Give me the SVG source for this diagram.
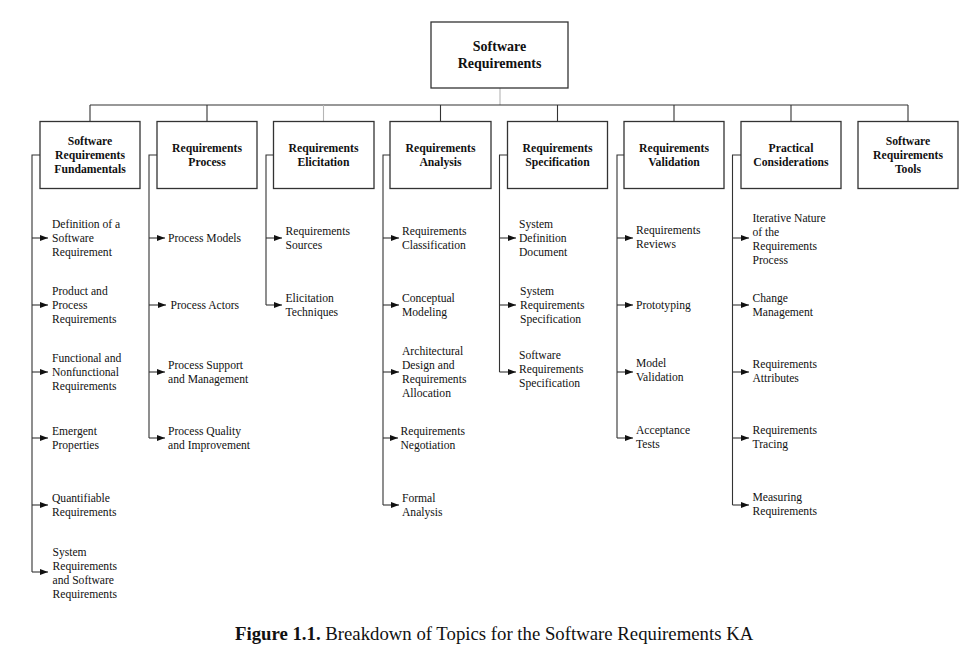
<svg xmlns="http://www.w3.org/2000/svg" width="966" height="657" viewBox="0 0 966 657">
<style>
  .box { fill: #ffffff; stroke: #333333; stroke-width: 1.3; }
  .hd { font-family: "Liberation Serif", "Times New Roman", serif; font-weight: bold; font-size: 11.7px; fill: #111111; text-anchor: middle; }
  .root { font-family: "Liberation Serif", "Times New Roman", serif; font-weight: bold; font-size: 14px; fill: #111111; text-anchor: middle; }
  .ch { font-family: "Liberation Serif", "Times New Roman", serif; font-size: 11.6px; fill: #111111; }
  .ln { fill: none; stroke: #333333; stroke-width: 1.1; }
  .lg { fill: none; stroke: #b5b5b5; stroke-width: 1.1; }
  .ar { fill: none; stroke: #333333; stroke-width: 1.1; marker-end: url(#ah); }
  .cap { font-family: "Liberation Serif", "Times New Roman", serif; font-size: 18.75px; fill: #111111; }
</style>
<defs>
  <marker id="ah" markerWidth="8" markerHeight="6" refX="8" refY="3" orient="auto" markerUnits="userSpaceOnUse">
    <path d="M0,0 L8,3 L0,6 Z" fill="#111111"/>
  </marker>
</defs>
<rect width="966" height="657" fill="#ffffff"/>

<g id="connectors">
  <path class="lg" d="M500,88 V105"/>
  <path class="ln" d="M90,105 H908"/>
  <path class="ln" d="M90,105 V121 M207,105 V121 M440.5,105 V121 M557.5,105 V121 M674,105 V121 M791,105 V121 M908,105 V121"/>
  <path class="lg" d="M323.5,105 V121"/>
  <!-- spines -->
  <path class="ln" d="M40,155 H32 V572"/>
  <path class="ln" d="M157,155 H149 V438"/>
  <path class="ln" d="M273,155 H266 V305"/>
  <path class="ln" d="M390,155 H383 V505"/>
  <path class="ln" d="M507,155 H499.5 V372"/>
  <path class="ln" d="M624,155 H617 V438"/>
  <path class="ln" d="M741,155 H732.5 V505"/>
  <!-- arrows col1 -->
  <path class="ar" d="M32,238 H48"/>
  <path class="ar" d="M32,305 H48"/>
  <path class="ar" d="M32,372 H48"/>
  <path class="ar" d="M32,438 H48"/>
  <path class="ar" d="M32,505 H48"/>
  <path class="ar" d="M32,572 H48"/>
  <!-- col2 -->
  <path class="ar" d="M149,238 H165"/>
  <path class="ar" d="M149,305 H166"/>
  <path class="ar" d="M149,372 H165"/>
  <path class="ar" d="M149,438 H165"/>
  <!-- col3 -->
  <path class="ar" d="M266,238 H282"/>
  <path class="ar" d="M266,305 H282"/>
  <!-- col4 -->
  <path class="ar" d="M383,238 H399"/>
  <path class="ar" d="M383,305 H399"/>
  <path class="ar" d="M383,372 H399"/>
  <path class="ar" d="M383,438 H398"/>
  <path class="ar" d="M383,505 H399"/>
  <!-- col5 -->
  <path class="ar" d="M499.5,238 H516"/>
  <path class="ar" d="M499.5,305 H516"/>
  <path class="ar" d="M499.5,372 H516"/>
  <!-- col6 -->
  <path class="ar" d="M617,238 H633"/>
  <path class="ar" d="M617,305 H633"/>
  <path class="ar" d="M617,372 H633"/>
  <path class="ar" d="M617,438 H633"/>
  <!-- col7 -->
  <path class="ar" d="M732.5,238 H749"/>
  <path class="ar" d="M732.5,305 H749"/>
  <path class="ar" d="M732.5,372 H749"/>
  <path class="ar" d="M732.5,438 H749"/>
  <path class="ar" d="M732.5,505 H749"/>
</g>

<g id="root">
  <rect class="box" x="431" y="22" width="137" height="66"/>
  <text class="root" x="499.5" y="51"><tspan x="499.5">Software</tspan><tspan x="499.5" dy="17">Requirements</tspan></text>
</g>

<g id="n-fundamentals">
  <rect class="box" x="40" y="121.5" width="100" height="67"/>
  <text class="hd" x="90" y="145"><tspan x="90">Software</tspan><tspan x="90" dy="14">Requirements</tspan><tspan x="90" dy="14">Fundamentals</tspan></text>
</g>
<g id="n-process">
  <rect class="box" x="157" y="121.5" width="100" height="67"/>
  <text class="hd" x="207" y="152"><tspan x="207">Requirements</tspan><tspan x="207" dy="14">Process</tspan></text>
</g>
<g id="n-elicitation">
  <rect class="box" x="273.5" y="121.5" width="100.5" height="67"/>
  <text class="hd" x="323.5" y="152"><tspan x="323.5">Requirements</tspan><tspan x="323.5" dy="14">Elicitation</tspan></text>
</g>
<g id="n-analysis">
  <rect class="box" x="390" y="121.5" width="101" height="67"/>
  <text class="hd" x="440.5" y="152"><tspan x="440.5">Requirements</tspan><tspan x="440.5" dy="14">Analysis</tspan></text>
</g>
<g id="n-specification">
  <rect class="box" x="507.5" y="121.5" width="100" height="67"/>
  <text class="hd" x="557.5" y="152"><tspan x="557.5">Requirements</tspan><tspan x="557.5" dy="14">Specification</tspan></text>
</g>
<g id="n-validation">
  <rect class="box" x="624" y="121.5" width="100" height="67"/>
  <text class="hd" x="674" y="152"><tspan x="674">Requirements</tspan><tspan x="674" dy="14">Validation</tspan></text>
</g>
<g id="n-practical">
  <rect class="box" x="741" y="121.5" width="100" height="67"/>
  <text class="hd" x="791" y="152"><tspan x="791">Practical</tspan><tspan x="791" dy="14">Considerations</tspan></text>
</g>
<g id="n-tools">
  <rect class="box" x="858" y="121.5" width="100" height="67"/>
  <text class="hd" x="908" y="145"><tspan x="908">Software</tspan><tspan x="908" dy="14">Requirements</tspan><tspan x="908" dy="14">Tools</tspan></text>
</g>

<!-- column 1 children -->
<g id="c1-1"><text class="ch" y="228"><tspan x="52">Definition of a</tspan><tspan x="52" dy="14">Software</tspan><tspan x="52" dy="14">Requirement</tspan></text></g>
<g id="c1-2"><text class="ch" y="295"><tspan x="52">Product and</tspan><tspan x="52" dy="14">Process</tspan><tspan x="52" dy="14">Requirements</tspan></text></g>
<g id="c1-3"><text class="ch" y="362"><tspan x="52">Functional and</tspan><tspan x="52" dy="14">Nonfunctional</tspan><tspan x="52" dy="14">Requirements</tspan></text></g>
<g id="c1-4"><text class="ch" y="435"><tspan x="52">Emergent</tspan><tspan x="52" dy="14">Properties</tspan></text></g>
<g id="c1-5"><text class="ch" y="502"><tspan x="52">Quantifiable</tspan><tspan x="52" dy="14">Requirements</tspan></text></g>
<g id="c1-6"><text class="ch" y="556"><tspan x="52.5">System</tspan><tspan x="52.5" dy="14">Requirements</tspan><tspan x="52.5" dy="14">and Software</tspan><tspan x="52.5" dy="14">Requirements</tspan></text></g>

<!-- column 2 -->
<g id="c2-1"><text class="ch" y="242"><tspan x="168">Process Models</tspan></text></g>
<g id="c2-2"><text class="ch" y="309"><tspan x="170.5">Process Actors</tspan></text></g>
<g id="c2-3"><text class="ch" y="369"><tspan x="168">Process Support</tspan><tspan x="168" dy="14">and Management</tspan></text></g>
<g id="c2-4"><text class="ch" y="435"><tspan x="168">Process Quality</tspan><tspan x="168" dy="14">and Improvement</tspan></text></g>

<!-- column 3 -->
<g id="c3-1"><text class="ch" y="235"><tspan x="285.5">Requirements</tspan><tspan x="285.5" dy="14">Sources</tspan></text></g>
<g id="c3-2"><text class="ch" y="302"><tspan x="285.5">Elicitation</tspan><tspan x="285.5" dy="14">Techniques</tspan></text></g>

<!-- column 4 -->
<g id="c4-1"><text class="ch" y="235"><tspan x="402">Requirements</tspan><tspan x="402" dy="14">Classification</tspan></text></g>
<g id="c4-2"><text class="ch" y="302"><tspan x="402">Conceptual</tspan><tspan x="402" dy="14">Modeling</tspan></text></g>
<g id="c4-3"><text class="ch" y="355"><tspan x="402">Architectural</tspan><tspan x="402" dy="14">Design and</tspan><tspan x="402" dy="14">Requirements</tspan><tspan x="402" dy="14">Allocation</tspan></text></g>
<g id="c4-4"><text class="ch" y="435"><tspan x="400.5">Requirements</tspan><tspan x="400.5" dy="14">Negotiation</tspan></text></g>
<g id="c4-5"><text class="ch" y="502"><tspan x="402">Formal</tspan><tspan x="402" dy="14">Analysis</tspan></text></g>

<!-- column 5 -->
<g id="c5-1"><text class="ch" y="228"><tspan x="519">System</tspan><tspan x="519" dy="14">Definition</tspan><tspan x="519" dy="14">Document</tspan></text></g>
<g id="c5-2"><text class="ch" y="295"><tspan x="520">System</tspan><tspan x="520" dy="14">Requirements</tspan><tspan x="520" dy="14">Specification</tspan></text></g>
<g id="c5-3"><text class="ch" y="359"><tspan x="519">Software</tspan><tspan x="519" dy="14">Requirements</tspan><tspan x="519" dy="14">Specification</tspan></text></g>

<!-- column 6 -->
<g id="c6-1"><text class="ch" y="234"><tspan x="636">Requirements</tspan><tspan x="636" dy="14">Reviews</tspan></text></g>
<g id="c6-2"><text class="ch" y="309"><tspan x="636">Prototyping</tspan></text></g>
<g id="c6-3"><text class="ch" y="367"><tspan x="636">Model</tspan><tspan x="636" dy="14">Validation</tspan></text></g>
<g id="c6-4"><text class="ch" y="434"><tspan x="636">Acceptance</tspan><tspan x="636" dy="14">Tests</tspan></text></g>

<!-- column 7 -->
<g id="c7-1"><text class="ch" y="222"><tspan x="752.5">Iterative Nature</tspan><tspan x="752.5" dy="14">of the</tspan><tspan x="752.5" dy="14">Requirements</tspan><tspan x="752.5" dy="14">Process</tspan></text></g>
<g id="c7-2"><text class="ch" y="301.5"><tspan x="752.5">Change</tspan><tspan x="752.5" dy="14">Management</tspan></text></g>
<g id="c7-3"><text class="ch" y="368"><tspan x="752.5">Requirements</tspan><tspan x="752.5" dy="14">Attributes</tspan></text></g>
<g id="c7-4"><text class="ch" y="434"><tspan x="752.5">Requirements</tspan><tspan x="752.5" dy="14">Tracing</tspan></text></g>
<g id="c7-5"><text class="ch" y="501"><tspan x="752.5">Measuring</tspan><tspan x="752.5" dy="14">Requirements</tspan></text></g>

<g id="caption">
  <text class="cap" x="235" y="640"><tspan font-weight="bold">Figure 1.1.</tspan> Breakdown of Topics for the Software Requirements KA</text>
</g>
</svg>
